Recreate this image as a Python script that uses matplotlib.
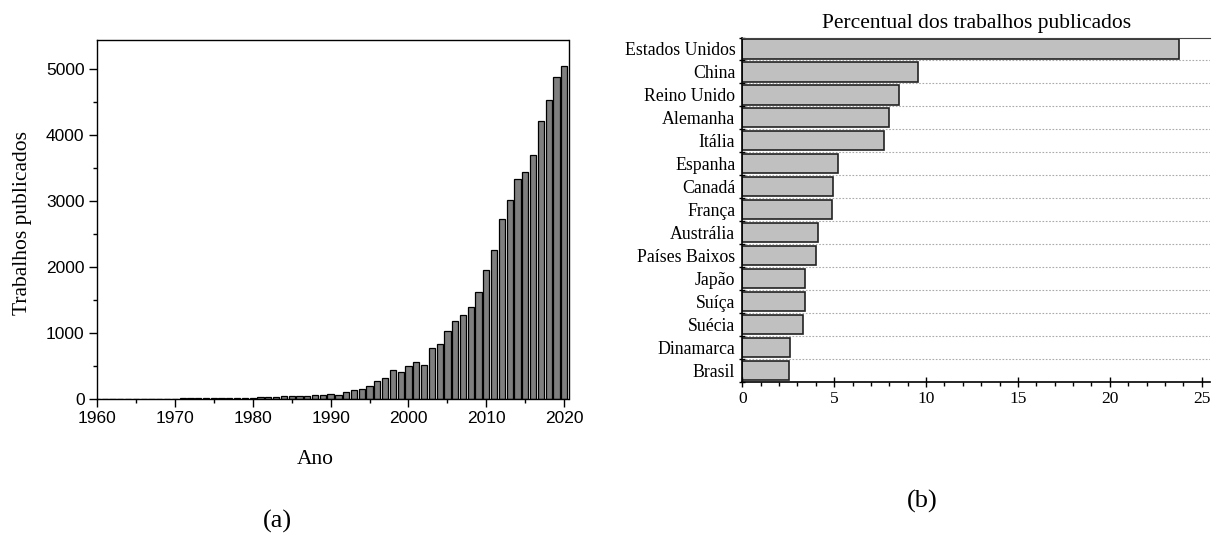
import matplotlib
matplotlib.use("Agg")
import matplotlib.pyplot as plt
from matplotlib.ticker import MultipleLocator, FixedLocator
import numpy as np

# ---- Data: panel (a)
years = list(range(1960, 2021))
publications = [0, 0, 1, 1, 1, 2, 2, 2, 2, 3,
                 3, 4, 4, 5, 6, 7, 8, 10, 12, 14,
                 17, 20, 25, 29, 34, 37, 44, 48, 54, 62,
                 66, 58, 97, 126, 141, 197, 272, 320, 430, 403,
                 495, 550, 508, 763, 830, 1025, 1180, 1265, 1396, 1614,
                 1948, 2252, 2722, 3005, 3329, 3430, 3693, 4204, 4528, 4877,
                 5038]

# ---- Data: panel (b)
countries = ["Estados Unidos", "China", "Reino Unido", "Alemanha", "Itália",
             "Espanha", "Canadá", "França", "Austrália", "Países Baixos",
             "Japão", "Suíça", "Suécia", "Dinamarca", "Brasil"]
percent = [23.75, 9.57, 8.53, 7.97, 7.72, 5.22, 4.95, 4.86, 4.13, 4.02,
           3.42, 3.39, 3.30, 2.61, 2.52]

sans = ["Liberation Sans", "DejaVu Sans"]
serif = ["Liberation Serif", "DejaVu Serif"]

fig = plt.figure(figsize=(12.12, 5.33), dpi=100)

# ---------------- Panel (a)
ax1 = fig.add_axes([97 / 1212, 1 - 398.7 / 533, (568.5 - 97) / 1212, (398.7 - 40.5) / 533])
ax1.bar(years, publications, width=0.8, color="#7f7f7f", edgecolor="black", linewidth=0.9)
ax1.set_xlim(1960, 2020.55)
ax1.set_ylim(0, 5430)
ax1.xaxis.set_major_locator(MultipleLocator(10))
ax1.xaxis.set_minor_locator(MultipleLocator(5))
ax1.yaxis.set_major_locator(MultipleLocator(1000))
ax1.yaxis.set_minor_locator(MultipleLocator(500))
ax1.tick_params(which="major", direction="out", length=6, width=1, pad=3, labelsize=12.5)
ax1.tick_params(which="minor", direction="out", length=3, width=1)
for lab in ax1.get_xticklabels() + ax1.get_yticklabels():
    lab.set_fontfamily(sans)
for sp in ax1.spines.values():
    sp.set_linewidth(1.0)
ax1.set_xlabel("Ano", fontfamily=serif, fontsize=15.5)
ax1.xaxis.set_label_coords(0.464, -0.143)
ax1.set_ylabel("Trabalhos publicados", fontfamily=serif, fontsize=15.5)
ax1.yaxis.set_label_coords(-0.138, 0.49)

fig.text(277 / 1212, 1 - 521 / 533, "(a)", fontfamily=serif, fontsize=19,
         ha="center", va="center")

# ---------------- Panel (b)
ax2 = fig.add_axes([742.3 / 1212, 1 - 382.3 / 533, (1210 - 742.3) / 1212, (382.3 - 37.5) / 533])
ypos = np.arange(len(countries))
ax2.barh(ypos, percent, height=0.83, color="#c0c0c0", edgecolor="#222222", linewidth=1.2)
ax2.set_ylim(len(countries) - 0.5, -0.5)
ax2.set_xlim(0, 25.45)
ax2.set_yticks(ypos)
ax2.set_yticklabels(countries, fontfamily=serif, fontsize=12.8)
ax2.yaxis.set_minor_locator(FixedLocator(np.arange(-0.5, len(countries), 1.0)))
ax2.tick_params(axis="y", which="major", length=0, pad=5)
ax2.tick_params(axis="y", which="minor", direction="inout", length=5, width=1)
ax2.xaxis.set_major_locator(MultipleLocator(5))
ax2.xaxis.set_minor_locator(MultipleLocator(1))
ax2.tick_params(axis="x", which="major", direction="inout", length=7, width=1, labelsize=12.5, pad=3)
ax2.tick_params(axis="x", which="minor", direction="out", length=3, width=1)
for lab in ax2.get_xticklabels():
    lab.set_fontfamily(serif)
for b in np.arange(0.5, len(countries) - 1, 1.0):
    ax2.axhline(b, color="#aaaaaa", linestyle=(0, (1.5, 1.5)), linewidth=0.8, zorder=0)
ax2.spines["right"].set_visible(False)
ax2.spines["top"].set_color("#444444")
ax2.spines["left"].set_linewidth(1.2)
ax2.spines["bottom"].set_linewidth(1.2)
ax2.set_title("Percentual dos trabalhos publicados", fontfamily=serif, fontsize=15.5, pad=7)

fig.text(922 / 1212, 1 - 501 / 533, "(b)", fontfamily=serif, fontsize=19,
         ha="center", va="center")

fig.savefig("out.png", dpi=100)
